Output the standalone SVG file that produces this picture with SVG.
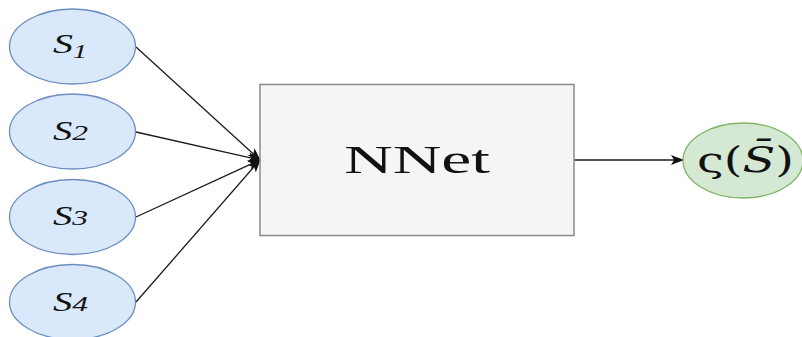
<svg xmlns="http://www.w3.org/2000/svg" width="802" height="337" viewBox="0 0 802 337">
  <style>
    .in ellipse { fill: #dae8fc; stroke: #6c8ebf; stroke-width: 1.3; }
    .out ellipse { fill: #d5e8d4; stroke: #82b366; stroke-width: 1.3; }
    .lbl { font-family: "Liberation Serif", "Times New Roman", serif; font-style: italic; font-size: 27px; fill: #111; }
    .edge { stroke: #1a1a1a; stroke-width: 1.3; fill: none; marker-end: url(#arrow); }
  </style>
  <defs>
    <marker id="arrow" viewBox="0 0 13 10" refX="12" refY="5" markerWidth="13" markerHeight="10" markerUnits="userSpaceOnUse" orient="auto">
      <path d="M0,0 L13,5 L0,10 L3,5 z" fill="#111"/>
    </marker>
  </defs>
  <rect width="802" height="337" fill="#ffffff"/>

  <g id="connectors">
    <line class="edge" x1="136" y1="47" x2="260" y2="160"/>
    <line class="edge" x1="136" y1="132" x2="260" y2="160"/>
    <line class="edge" x1="136" y1="217" x2="260" y2="160"/>
    <line class="edge" x1="136" y1="302" x2="260" y2="160"/>
    <line class="edge" x1="574" y1="160" x2="683" y2="160"/>
  </g>

  <g id="s1" class="in">
    <ellipse cx="72.5" cy="46.5" rx="63" ry="37.5"/>
    <text class="lbl" x="53" y="53" textLength="34" lengthAdjust="spacingAndGlyphs">S<tspan font-size="19" dy="5">1</tspan></text>
  </g>
  <g id="s2" class="in">
    <ellipse cx="72.5" cy="131.5" rx="63" ry="37.5"/>
    <text class="lbl" x="53" y="139.5" textLength="35" lengthAdjust="spacingAndGlyphs">S<tspan font-size="22">2</tspan></text>
  </g>
  <g id="s3" class="in">
    <ellipse cx="72.5" cy="217" rx="63" ry="37.5"/>
    <text class="lbl" x="53" y="225" textLength="35" lengthAdjust="spacingAndGlyphs">S<tspan font-size="22">3</tspan></text>
  </g>
  <g id="s4" class="in">
    <ellipse cx="72.5" cy="302" rx="63" ry="37.5"/>
    <text class="lbl" x="53" y="310.5" textLength="35" lengthAdjust="spacingAndGlyphs">S<tspan font-size="22">4</tspan></text>
  </g>

  <g id="nnet">
    <rect x="260" y="84.5" width="314" height="151" fill="#f5f5f5" stroke="#8a8a8a" stroke-width="1.5"/>
    <text x="344" y="173" font-family="Liberation Serif, Times New Roman, serif" font-size="41" fill="#111" textLength="146" lengthAdjust="spacingAndGlyphs">NNet</text>
  </g>

  <g id="result" class="out">
    <ellipse cx="743" cy="160.5" rx="60" ry="37.5"/>
    <text x="697" y="172" font-family="DejaVu Serif, Liberation Serif, serif" font-size="36" fill="#111" textLength="97" lengthAdjust="spacingAndGlyphs">ς(<tspan font-style="italic">S̄</tspan>)</text>
  </g>
</svg>
